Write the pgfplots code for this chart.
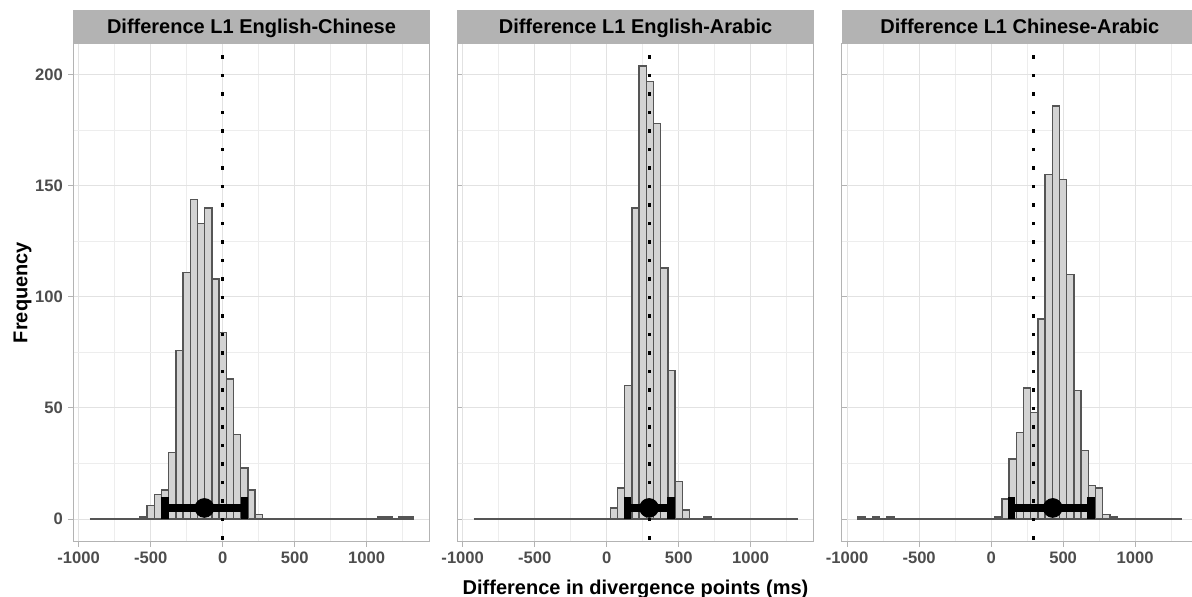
\documentclass[border=0pt]{standalone}
\usepackage{fontspec}
\setmainfont{Liberation Sans}
\usepackage{pgfplots}
\usepackage{pgfplotstable}
\pgfplotsset{compat=1.18}

\definecolor{stripgray}{HTML}{B3B3B3}
\definecolor{gridmajor}{HTML}{E2E2E2}
\definecolor{gridminor}{HTML}{EDEDED}
\definecolor{tickgray}{HTML}{4D4D4D}
\definecolor{barfill}{HTML}{D3D3D3}
\definecolor{baredge}{HTML}{555555}

% bootstrap histograms, bins of 50 ms centred on multiples of 50
\pgfplotstableread{
x   n
-550 1
-500 6
-450 11
-400 13
-350 30
-300 76
-250 111
-200 144
-150 133
-100 140
-50  108
0    84
50   63
100  38
150  23
200  13
250  2
1100 1
1150 1
1250 1
1300 1
}\histEC
\pgfplotstableread{
x   n
50  5
100 14
150 60
200 140
250 204
300 197
350 178
400 113
450 67
500 17
550 4
700 1
}\histEA
\pgfplotstableread{
x   n
-900 1
-800 1
-700 1
50  1
100 9
150 27
200 39
250 59
300 48
350 90
400 155
450 186
500 153
550 110
600 58
650 31
700 15
750 14
800 2
850 1
}\histCA

\pgfplotsset{
  facet/.style={
    scale only axis, width=178.2pt, height=249.2pt,
    anchor=south west,
    xmin=-1037.5, xmax=1437.5, ymin=-10.2, ymax=214.2,
    xtick={-1000,-500,0,500,1000},
    xticklabels={-1000,-500,0,500,1000},
    minor xtick={-750,-250,250,750,1250},
    ytick={0,50,100,150,200},
    minor ytick={25,75,125,175},
    grid=both,
    major grid style={gridmajor, line width=0.5pt},
    minor grid style={gridminor, line width=0.3pt},
    axis line style={stripgray, line width=0.5pt},
    tick align=outside, xtick pos=left, ytick pos=left,
    major tick length=2.5pt, minor tick length=0pt,
    tick style={stripgray, line width=0.5pt},
    xticklabel style={font=\bfseries\fontsize{8.3}{10}\selectfont, text=tickgray,
      anchor=base, inner sep=0pt, yshift=-8.3pt},
    yticklabel style={font=\bfseries\fontsize{8.3}{10}\selectfont, text=tickgray,
      anchor=east, inner sep=0pt, xshift=-2.5pt},
    every axis title shift=0pt,
    title style={at={(axis description cs:0.5,1)}, anchor=south, yshift=0pt,
      fill=stripgray, inner sep=0pt, minimum width=178.2pt, minimum height=16.65pt,
      text height=7.2pt, text depth=0pt,
      font=\bfseries\fontsize{10}{12}\selectfont},
  },
  histbars/.style={ybar, bar width=50, bar shift=0pt, fill=barfill, draw=baredge, line width=0.7pt},
  zeroline/.style={baredge, line width=0.7pt},
  interval/.style={black, line width=3.75pt},
  refline/.style={black, line width=1.6pt, dash pattern=on 1.6pt off 7.65pt, dash phase=8.15pt},
}

\begin{document}
\begin{tikzpicture}
\path[use as bounding box] (0,0) rectangle (596pt,298pt);

% English - Chinese
\begin{axis}[facet, at={(36.65pt,27.15pt)},
  title={Difference L1 English-Chinese},
  yticklabels={0,50,100,150,200},
  ylabel={Frequency},
  ylabel style={at={(axis description cs:-0.1425,0.5)}, anchor=center,
    font=\bfseries\fontsize{10}{12}\selectfont}]
  \addplot[zeroline] coordinates {(-925,0) (1325,0)};
  \addplot[histbars] table[x=x, y=n] {\histEC};
  \addplot[interval] coordinates {(-400,5) (151,5)};
  \addplot[interval] coordinates {(-400,0) (-400,10)};
  \addplot[interval] coordinates {(151,0) (151,10)};
  \addplot[only marks, mark=*, mark size=4.7pt, black] coordinates {(-127,5)};
  \addplot[refline] coordinates {(0,-10.2) (0,214.2)};
\end{axis}

% English - Arabic
\begin{axis}[facet, at={(228.65pt,27.15pt)},
  title={Difference L1 English-Arabic},
  yticklabels={}, ytick align=inside,
  xlabel={Difference in divergence points (ms)},
  xlabel style={at={(axis description cs:0.5,-0.105)}, anchor=base, inner sep=0pt,
    font=\bfseries\fontsize{10}{12}\selectfont}]
  \addplot[zeroline] coordinates {(-925,0) (1325,0)};
  \addplot[histbars] table[x=x, y=n] {\histEA};
  \addplot[interval] coordinates {(143,5) (446,5)};
  \addplot[interval] coordinates {(143,0) (143,10)};
  \addplot[interval] coordinates {(446,0) (446,10)};
  \addplot[only marks, mark=*, mark size=4.7pt, black] coordinates {(294,5)};
  \addplot[refline] coordinates {(295,-10.2) (295,214.2)};
\end{axis}

% Chinese - Arabic
\begin{axis}[facet, at={(420.85pt,27.15pt)},
  title={Difference L1 Chinese-Arabic},
  yticklabels={}, ytick align=inside]
  \addplot[zeroline] coordinates {(-925,0) (1325,0)};
  \addplot[histbars] table[x=x, y=n] {\histCA};
  \addplot[interval] coordinates {(143,5) (694,5)};
  \addplot[interval] coordinates {(143,0) (143,10)};
  \addplot[interval] coordinates {(694,0) (694,10)};
  \addplot[only marks, mark=*, mark size=4.7pt, black] coordinates {(428,5)};
  \addplot[refline] coordinates {(295,-10.2) (295,214.2)};
\end{axis}
\end{tikzpicture}
\end{document}
